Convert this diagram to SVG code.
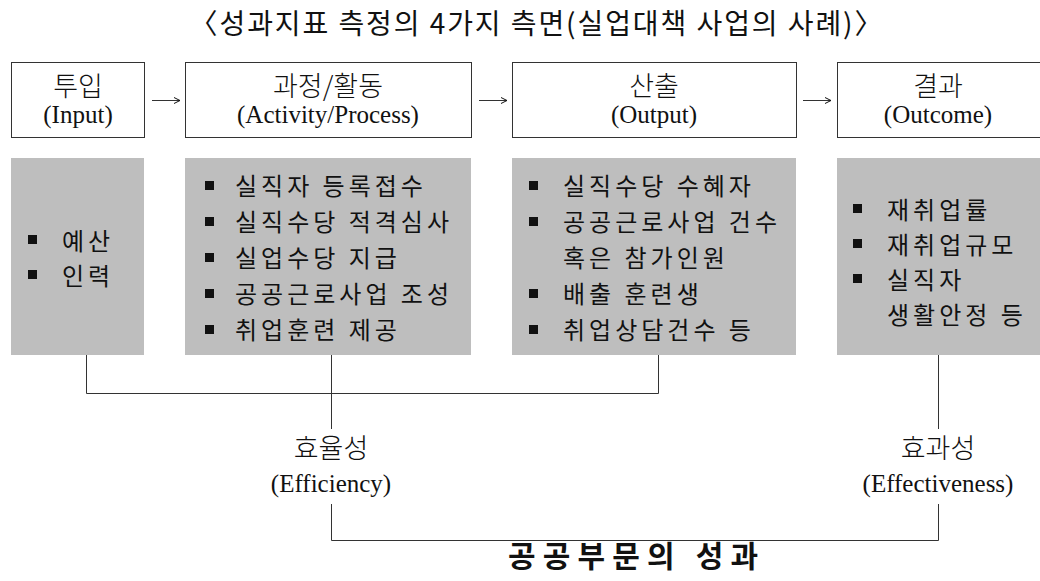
<svg xmlns="http://www.w3.org/2000/svg" width="1040" height="581" viewBox="0 0 1040 581">
<defs>
<style>
.hdr{fill:#fff;stroke:#333;stroke-width:1}
.gray{fill:#bebebe}
.lbl{font-family:"Liberation Serif","Noto Sans CJK KR",serif;font-size:25px;fill:#111;text-anchor:middle}
.ko{font-family:"Noto Sans CJK KR",sans-serif;font-weight:300;font-size:27px}
.item{font-family:"Noto Sans CJK KR",sans-serif;font-weight:400;font-size:24px;fill:#111;letter-spacing:4px}
.bul{fill:#111}
.conn{fill:none;stroke:#333;stroke-width:1}
.title{font-family:"Noto Sans CJK KR",sans-serif;font-size:28px;fill:#111;text-anchor:middle}
.foot{font-family:"Noto Sans CJK KR",sans-serif;font-weight:bold;font-size:30px;fill:#111;text-anchor:middle}
</style>
<marker id="ah" markerWidth="10" markerHeight="10" refX="8" refY="4" orient="auto" markerUnits="userSpaceOnUse">
<path d="M2,1 L8,4 L2,7" fill="none" stroke="#111" stroke-width="1"/>
</marker>
</defs>
<rect width="1040" height="581" fill="#fff"/>

<text id="title" class="title" x="536" y="34" textLength="693" lengthAdjust="spacing">〈성과지표 측정의 4가지 측면(실업대책 사업의 사례)〉</text>

<g id="input">
<rect class="hdr" x="11.5" y="62.5" width="133" height="75"/>
<text class="lbl" x="78" y="96"><tspan class="ko">투입</tspan></text>
<text class="lbl" x="78" y="123">(Input)</text>
<rect class="gray" x="11" y="158" width="133" height="197"/>
<rect class="bul" x="28" y="235" width="9" height="9"/>
<rect class="bul" x="28" y="270" width="9" height="9"/>
<text class="item" x="62" y="250">예산</text>
<text class="item" x="62" y="285">인력</text>
</g>

<g id="activity">
<rect class="hdr" x="185.5" y="62.5" width="286" height="75"/>
<text class="lbl" x="328" y="96"><tspan class="ko">과정/활동</tspan></text>
<text class="lbl" x="328" y="123">(Activity/Process)</text>
<rect class="gray" x="185" y="158" width="286" height="197"/>
<rect class="bul" x="205" y="181" width="9" height="9"/>
<rect class="bul" x="205" y="217" width="9" height="9"/>
<rect class="bul" x="205" y="253" width="9" height="9"/>
<rect class="bul" x="205" y="289" width="9" height="9"/>
<rect class="bul" x="205" y="325" width="9" height="9"/>
<text class="item" x="235" y="195">실직자 등록접수</text>
<text class="item" x="235" y="231">실직수당 적격심사</text>
<text class="item" x="235" y="267">실업수당 지급</text>
<text class="item" x="235" y="303">공공근로사업 조성</text>
<text class="item" x="235" y="339">취업훈련 제공</text>
</g>

<g id="output">
<rect class="hdr" x="512.5" y="62.5" width="284" height="75"/>
<text class="lbl" x="654" y="96"><tspan class="ko">산출</tspan></text>
<text class="lbl" x="654" y="123">(Output)</text>
<rect class="gray" x="512" y="158" width="284" height="197"/>
<rect class="bul" x="529" y="181" width="9" height="9"/>
<rect class="bul" x="529" y="217" width="9" height="9"/>
<rect class="bul" x="529" y="289" width="9" height="9"/>
<rect class="bul" x="529" y="325" width="9" height="9"/>
<text class="item" x="563" y="195">실직수당 수혜자</text>
<text class="item" x="563" y="231">공공근로사업 건수</text>
<text class="item" x="563" y="267">혹은 참가인원</text>
<text class="item" x="563" y="303">배출 훈련생</text>
<text class="item" x="563" y="339">취업상담건수 등</text>
</g>

<g id="outcome">
<rect class="hdr" x="837.5" y="62.5" width="210" height="75"/>
<text class="lbl" x="938" y="96"><tspan class="ko">결과</tspan></text>
<text class="lbl" x="938" y="123">(Outcome)</text>
<rect class="gray" x="837" y="158" width="203" height="197"/>
<rect class="bul" x="853" y="204" width="9" height="9"/>
<rect class="bul" x="853" y="239" width="9" height="9"/>
<rect class="bul" x="853" y="274" width="9" height="9"/>
<text class="item" x="887" y="219">재취업률</text>
<text class="item" x="887" y="254">재취업규모</text>
<text class="item" x="887" y="289">실직자</text>
<text class="item" x="887" y="324">생활안정 등</text>
</g>

<g id="efficiency">
<text class="lbl" x="331" y="458"><tspan class="ko">효율성</tspan></text>
<text class="lbl" x="331" y="492">(Efficiency)</text>
</g>

<g id="effectiveness">
<text class="lbl" x="938" y="458"><tspan class="ko">효과성</tspan></text>
<text class="lbl" x="938" y="492">(Effectiveness)</text>
</g>

<g id="performance">
<text class="foot" x="633" y="567" textLength="250" lengthAdjust="spacing">공공부문의 성과</text>
</g>

<g id="connectors">
<path class="conn" d="M152,100.5 H180" marker-end="url(#ah)"/>
<path class="conn" d="M479,100.5 H507" marker-end="url(#ah)"/>
<path class="conn" d="M803,100.5 H831" marker-end="url(#ah)"/>
<path class="conn" d="M86.5,355 V393.5 H658.5 V355"/>
<path class="conn" d="M331.5,355 V429"/>
<path class="conn" d="M331.5,504 V540.5 H938.5 V504"/>
<path class="conn" d="M938.5,355 V429"/>
</g>
</svg>
